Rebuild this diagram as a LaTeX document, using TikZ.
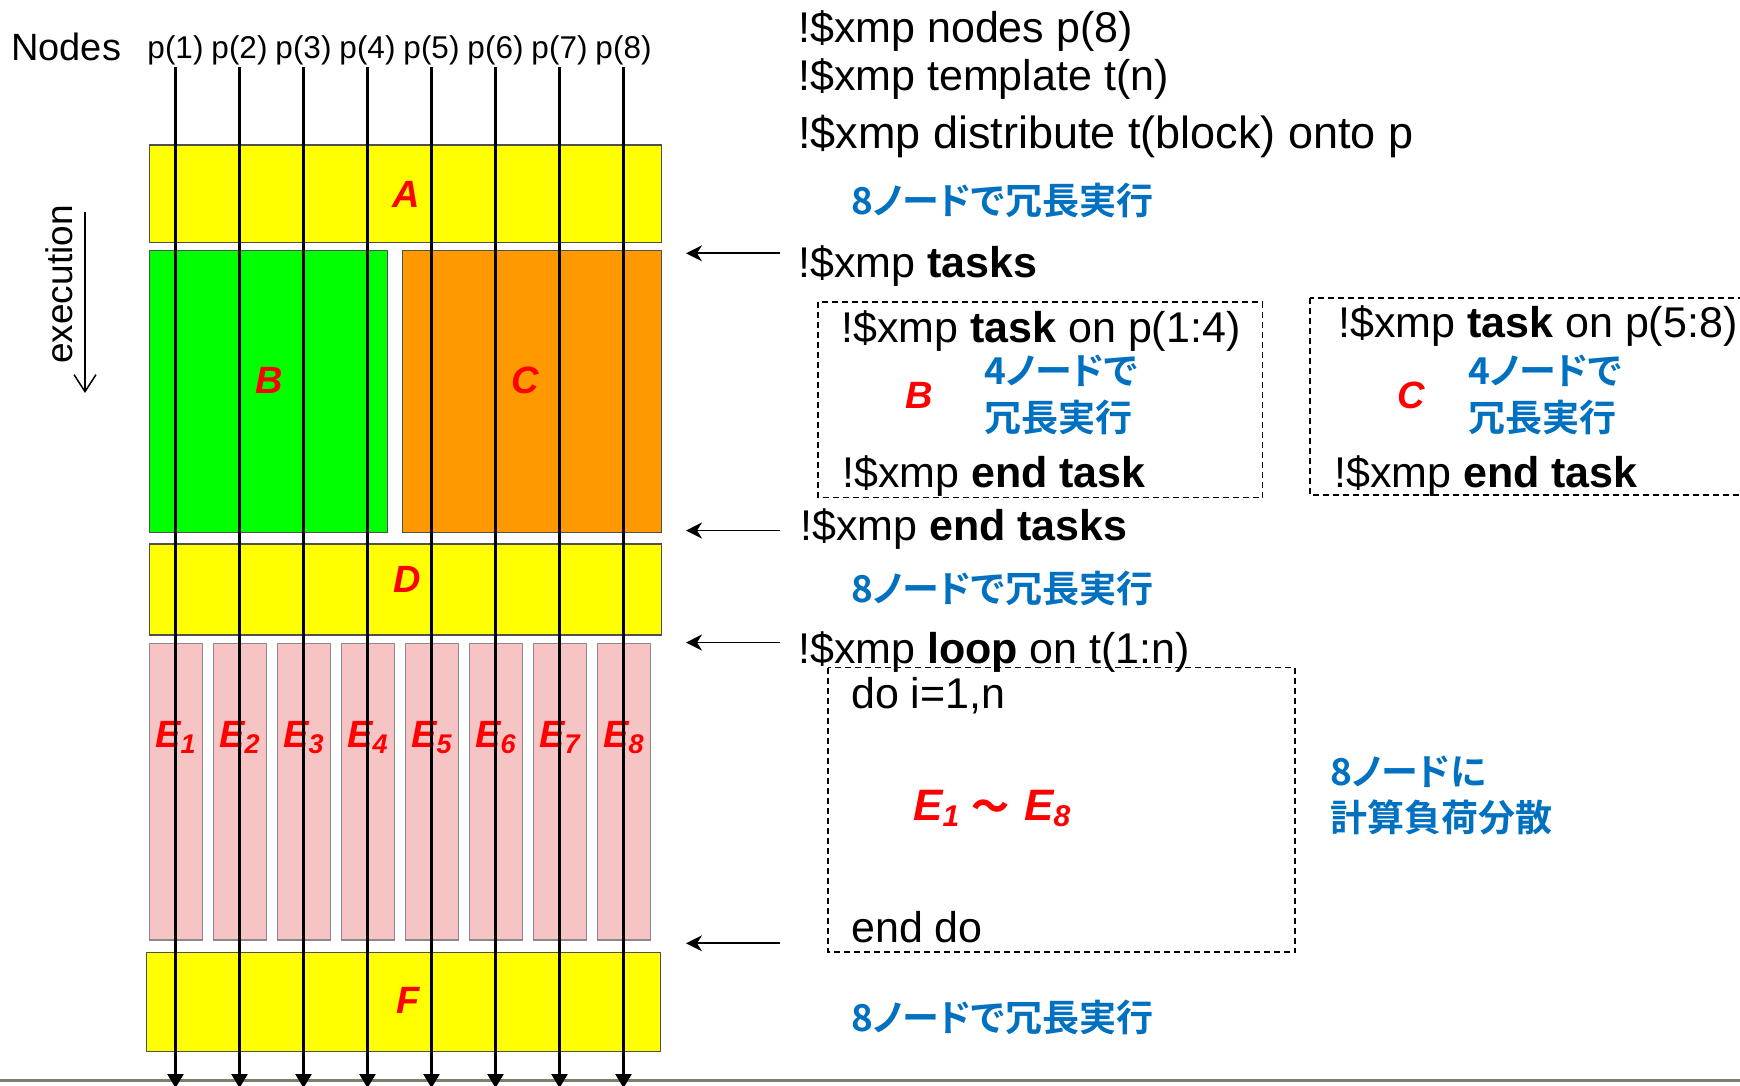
\documentclass[tikz,border=0pt]{standalone}
\usepackage{fontspec}
\setmainfont{Liberation Sans}
\newfontfamily\jpb{Noto Sans CJK JP Bold}[RawFeature=+palt]
\usetikzlibrary{arrows.meta}

\definecolor{noteblue}{HTML}{0070C0}
\definecolor{boxedge}{HTML}{505050}
\definecolor{eedge}{HTML}{8A8A8A}
\definecolor{epink}{HTML}{F6C4C4}
\definecolor{blockyellow}{RGB}{255,255,0}
\definecolor{taskgreen}{RGB}{0,255,0}
\definecolor{taskorange}{HTML}{FF9900}
\definecolor{labelred}{RGB}{255,0,0}
\definecolor{floor}{HTML}{7F7F70}

% lowered subscript digit for the E labels
\newcommand\Esub[2][27]{\raisebox{-6pt}{\fontsize{#1}{#1}\selectfont #2}}

\begin{document}
\begin{tikzpicture}[x=1pt,y=-1pt,
  blk/.style={draw=boxedge,line width=1.2pt,inner sep=0pt,anchor=north west},
  ebox/.style={draw=eedge,line width=1.2pt,fill=epink,inner sep=0pt,anchor=north west,
               minimum width=53pt,minimum height=296.6pt},
  lbl/.style={text=labelred,font=\fontsize{38}{44}\selectfont\bfseries\itshape,anchor=base,inner sep=0pt},
  plabel/.style={font=\fontsize{31.5}{36}\selectfont,anchor=base,inner sep=0pt},
  code/.style={font=\fontsize{43}{50}\selectfont,anchor=base west,inner sep=0pt},
  note/.style={text=noteblue,font=\jpb\fontsize{37}{42}\selectfont,anchor=west,inner sep=0pt},
  flow/.style={line width=2.6pt,shorten <=2pt,-{Triangle[width=16pt,length=14pt]}},
  ptr/.style={line width=1.8pt,-{Stealth[length=16pt,width=16pt,inset=5pt]}},
  dbox/.style={draw,line width=1.8pt,dash pattern=on 6pt off 4pt},
]
\useasboundingbox (0,0) rectangle (1740,1085);
\clip (0,0) rectangle (1740,1085);
\fill[white] (0,0) rectangle (1740,1085);

% floor line
\draw[floor,line width=3pt] (0,1080) -- (1740,1080);

% execution blocks
\node[blk,fill=blockyellow,minimum width=512pt,minimum height=97.2pt] (A) at (148.7,144.3) {};
\node[blk,fill=taskgreen,minimum width=238.3pt,minimum height=281.7pt] (B) at (148.7,250) {};
\node[blk,fill=taskorange,minimum width=258.7pt,minimum height=281.7pt] (C) at (402,250) {};
\node[blk,fill=blockyellow,minimum width=512pt,minimum height=91pt] (D) at (148.7,543.3) {};
\node[blk,fill=blockyellow,minimum width=514pt,minimum height=99.3pt] (F) at (145.5,951.7) {};

\node[lbl] (Alab) at (406,207) {A};
\node[lbl] (Blab) at (269,393) {B};
\node[lbl] (Clab) at (525,393) {C};
\node[lbl] (Dlab) at (407,592) {D};
\node[lbl] (Flab) at (408,1013) {F};

\node[font=\fontsize{38}{42}\selectfont,anchor=base west,inner sep=0pt] (nodes) at (11,60) {Nodes};

\foreach \i in {1,...,8} {
  \pgfmathsetmacro\xx{175.5+64*(\i-1)}
  \node[ebox] (E\i) at (\xx-26.5,642.7) {};
  \node[lbl] (E\i lab) at (\xx,747) {E\Esub{\i}};
  \node[plabel] (p\i) at (\xx,58.5) {p(\i)};
  \coordinate (b\i) at (\xx,1088);
  \draw[flow] (p\i.south) -- (b\i);
}

% time axis
\node[font=\fontsize{37}{40}\selectfont,rotate=90,inner sep=0pt] (exe) at (59,284.5) {execution};
\coordinate (exeTop) at (85,211.7);
\coordinate (exeEnd) at (85,393);
\draw[line width=1.5pt,-{Straight Barb[length=17pt,width=22pt]}] (exeTop) -- (exeEnd);

% directive pointers
\foreach \n/\yy in {tasks/253.3,endtasks/530.5,loop/642.5,enddo/943.3} {
  \coordinate (\n S) at (780,\yy);
  \coordinate (\n E) at (686,\yy);
  \draw[ptr] (\n S) -- (\n E);
}

% directives
\node[code] (l1) at (798,42) {!\$xmp nodes p(8)};
\node[code] (l2) at (798,90) {!\$xmp template t(n)};
\node[code,font=\fontsize{45}{50}\selectfont] (l3) at (798,148) {!\$xmp distribute t(block) onto p};
\node[note] (n1) at (851,200) {8ノードで冗長実行};
\node[code] (l4) at (798,277) {!\$xmp \textbf{tasks}};

% task on p(1:4)
\draw[dbox] (818,302) rectangle (1262.5,497.5);
\node[code] (t1a) at (841,342) {!\$xmp \textbf{task} on p(1:4)};
\node[lbl] (t1B) at (919,408) {B};
\node[note] (t1n1) at (984,371) {4ノードで};
\node[note] (t1n2) at (984,417) {冗長実行};
\node[code] (t1b) at (842,487) {!\$xmp \textbf{end task}};

% task on p(5:8)
\draw[dbox] (1310,298) rectangle (1770,495);
\node[code] (t2a) at (1338,337) {!\$xmp \textbf{task} on p(5:8)};
\node[lbl] (t2C) at (1411,408) {C};
\node[note] (t2n1) at (1468,371) {4ノードで};
\node[note] (t2n2) at (1468,417) {冗長実行};
\node[code] (t2b) at (1334,487) {!\$xmp \textbf{end task}};

\node[code] (l5) at (800,540) {!\$xmp \textbf{end tasks}};
\node[note] (n2) at (851,588) {8ノードで冗長実行};

% loop
\draw[dbox] (828,667.5) rectangle (1295,952);
\node[code] (l6) at (798,663) {!\$xmp \textbf{loop} on t(1:n)};
\node[code] (d1) at (851,708) {do i=1,n};
\node[lbl,anchor=base west,font=\fontsize{44}{48}\selectfont\bfseries\itshape] (erange) at (913,820)
  {E\Esub[30]{1}\hspace{12pt}{\jpb\upshape\fontsize{38}{44}\selectfont ～}\hspace{15pt}E\Esub[30]{8}};
\node[code] (d2) at (851,942) {end do};
\node[note] (n3) at (1330,772) {8ノードに};
\node[note] (n4) at (1330,817) {計算負荷分散};
\node[note] (n5) at (851,1017) {8ノードで冗長実行};
\end{tikzpicture}
\end{document}
